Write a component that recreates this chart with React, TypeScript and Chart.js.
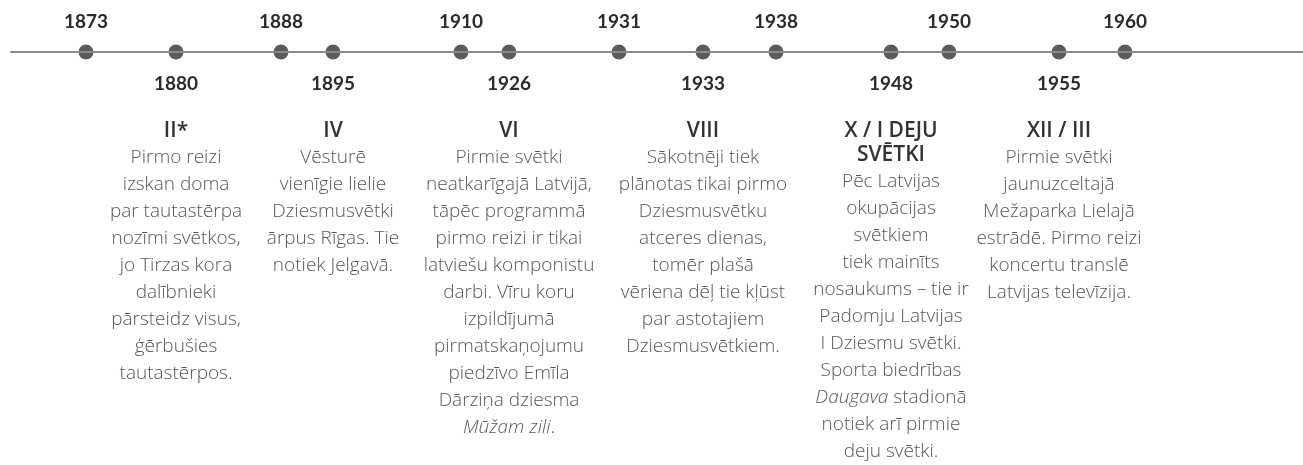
import React, { useEffect, useRef } from "react";
import { Chart, registerables } from "chart.js";

Chart.register(...registerables);

// ---- data ----
const years = ["1873", "1880", "1888", "1895", "1910", "1926", "1931", "1933", "1938", "1948", "1950", "1955", "1960"];
// position of each year along the timeline axis (axis units)
const slots = [86, 176, 281, 333, 461, 509, 619, 703, 776, 891, 949, 1059, 1125];
const axisRange = [10, 1303];

const eventYears = ["1880", "1895", "1926", "1933", "1948", "1955"];
const eventTitles = [["II*"], ["IV"], ["VI"], ["VIII"], ["X / I DEJU", "SVĒTKI"], ["XII / III"]];
const eventTexts = [
  ["Pirmo reizi", "izskan doma", "par tautastērpa", "nozīmi svētkos,", "jo Tirzas kora", "dalībnieki", "pārsteidz visus,", "ģērbušies", "tautastērpos."],
  ["Vēsturē", "vienīgie lielie", "Dziesmusvētki", "ārpus Rīgas. Tie", "notiek Jelgavā."],
  ["Pirmie svētki", "neatkarīgajā Latvijā,", "tāpēc programmā", "pirmo reizi ir tikai", "latviešu komponistu", "darbi. Vīru koru", "izpildījumā", "pirmatskaņojumu", "piedzīvo Emīla", "Dārziņa dziesma", "_Mūžam zili_."],
  ["Sākotnēji tiek", "plānotas tikai pirmo", "Dziesmusvētku", "atceres dienas,", "tomēr plašā", "vēriena dēļ tie kļūst", "par astotajiem", "Dziesmusvētkiem."],
  ["Pēc Latvijas", "okupācijas", "svētkiem", "tiek mainīts", "nosaukums – tie ir", "Padomju Latvijas", "I Dziesmu svētki.", "Sporta biedrības", "_Daugava_ stadionā", "notiek arī pirmie", "deju svētki."],
  ["Pirmie svētki", "jaunuzceltajā", "Mežaparka Lielajā", "estrādē. Pirmo reizi", "koncertu translē", "Latvijas televīzija."],
];

const YEAR_FONT = "bold 19px Lato";
const TITLE_FONT = "600 21px 'Open Sans'";
const BODY_FONT = "300 19px 'Open Sans'";
const BODY_ITALIC = "italic 300 19px 'Open Sans'";

if (typeof document !== "undefined") {
  document.body.style.margin = "0";
}

function drawMixed(ctx: CanvasRenderingContext2D, line: string, cx: number, cy: number) {
  const parts = line.split("_");
  const segs = parts.map((t, i) => ({ t, f: i % 2 === 1 ? BODY_ITALIC : BODY_FONT }));
  let total = 0;
  for (const s of segs) {
    ctx.font = s.f;
    total += ctx.measureText(s.t).width;
  }
  let x = cx - total / 2;
  ctx.textAlign = "left";
  for (const s of segs) {
    ctx.font = s.f;
    ctx.fillText(s.t, x, cy);
    x += ctx.measureText(s.t).width;
  }
}

const timelinePlugin = {
  id: "timelineText",
  afterDatasetsDraw(chart: any) {
    const ctx: CanvasRenderingContext2D = chart.ctx;
    const meta = chart.getDatasetMeta(1);
    ctx.save();
    ctx.textBaseline = "middle";
    meta.data.forEach((el: any, i: number) => {
      const below = eventYears.includes(years[i]);
      ctx.font = YEAR_FONT;
      ctx.fillStyle = "#2b2b2b";
      ctx.textAlign = "center";
      ctx.fillText(years[i], el.x, below ? el.y + 32 : el.y - 30);
    });
    eventYears.forEach((yr, k) => {
      const idx = years.indexOf(yr);
      const el = meta.data[idx];
      const cx = el.x;
      let cy = el.y + 79;
      ctx.font = TITLE_FONT;
      ctx.fillStyle = "#333333";
      ctx.textAlign = "center";
      eventTitles[k].forEach((t, j) => {
        if (j > 0) cy += 24;
        ctx.fillText(t, cx, cy);
      });
      cy += 26.5;
      ctx.fillStyle = "#575757";
      eventTexts[k].forEach((line) => {
        drawMixed(ctx, line, cx, cy);
        cy += 27;
      });
    });
    ctx.restore();
  },
};

export default function App() {
  const ref = useRef<HTMLCanvasElement | null>(null);
  useEffect(() => {
    document.body.style.margin = "0";
    const canvas = ref.current;
    if (!canvas) return;
    const chart = new Chart(canvas, {
      type: "scatter",
      data: {
        datasets: [
          {
            type: "line",
            data: axisRange.map((x) => ({ x, y: 0 })),
            borderColor: "#8a8a8a",
            borderWidth: 2,
            pointRadius: 0,
            fill: false,
          } as any,
          {
            type: "scatter",
            data: slots.map((x) => ({ x, y: 0 })),
            backgroundColor: "#5b5b5b",
            borderWidth: 0,
            pointRadius: 7.5,
            pointHoverRadius: 7.5,
          },
        ],
      },
      options: {
        animation: false,
        responsive: false,
        devicePixelRatio: 1,
        clip: false as any,
        layout: { autoPadding: false, padding: { left: 0, right: 0, top: 0, bottom: 361 } },
        plugins: { legend: { display: false }, tooltip: { enabled: false } },
        events: [],
        scales: {
          x: { type: "linear", min: 0, max: 1303, display: false },
          y: { type: "linear", min: -1, max: 1, display: false },
        },
      },
      plugins: [timelinePlugin],
    });
    return () => chart.destroy();
  }, []);
  return (
    <div style={{ position: "absolute", left: 0, top: 0, width: "1303px", height: "465px", overflow: "hidden" }}>
      <canvas ref={ref} width={1303} height={465} style={{ display: "block", width: "1303px", height: "465px" }} />
    </div>
  );
}
